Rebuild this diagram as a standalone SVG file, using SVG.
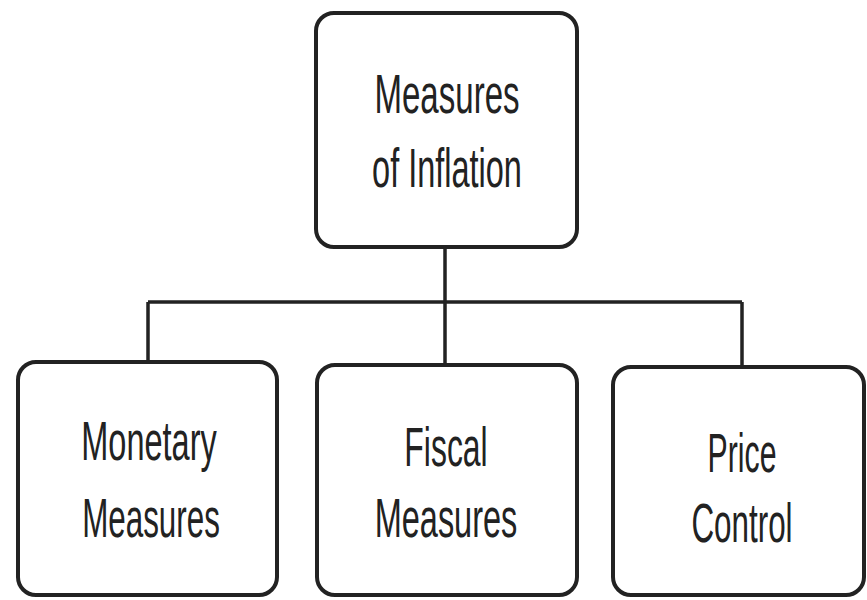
<svg xmlns="http://www.w3.org/2000/svg" width="867" height="600" viewBox="0 0 867 600">
<style>
.box{fill:#fff;stroke:#222;stroke-width:4}
.lbl{font-family:"Liberation Sans",Arial,sans-serif;font-size:56px;fill:#222;text-anchor:middle}
.conn{stroke:#222;stroke-width:3.5;fill:none}
</style>
<rect width="867" height="600" fill="#fff"/>
<g id="connectors">
<path class="conn" d="M445,247 V302 M148,302 H742 M148,302 V362 M445,302 V365 M742,302 V367"/>
</g>
<g id="root">
<rect class="box" x="316" y="13" width="261" height="234" rx="18"/>
<text class="lbl" transform="translate(447,113) scale(0.59,1)">Measures</text>
<text class="lbl" transform="translate(447,187) scale(0.58,1)">of Inflation</text>
</g>
<g id="monetary">
<rect class="box" x="18" y="362" width="259" height="233" rx="18"/>
<text class="lbl" transform="translate(149,460) scale(0.58,1)">Monetary</text>
<text class="lbl" transform="translate(151,537) scale(0.56,1)">Measures</text>
</g>
<g id="fiscal">
<rect class="box" x="317" y="365" width="260" height="230" rx="18"/>
<text class="lbl" transform="translate(446,466) scale(0.57,1)">Fiscal</text>
<text class="lbl" transform="translate(446,537) scale(0.58,1)">Measures</text>
</g>
<g id="price">
<rect class="box" x="613" y="367" width="251" height="228" rx="18"/>
<text class="lbl" transform="translate(742,472) scale(0.54,1)">Price</text>
<text class="lbl" transform="translate(742,542) scale(0.56,1)">Control</text>
</g>
</svg>
